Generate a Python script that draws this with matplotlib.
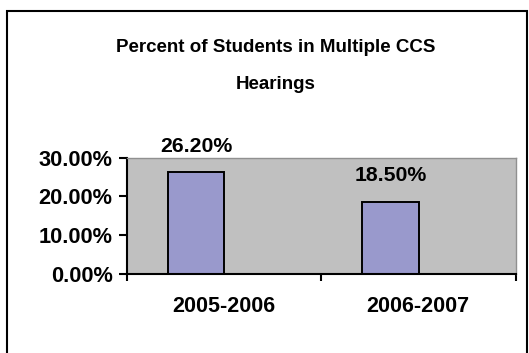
import numpy as np
import matplotlib.pyplot as plt
from matplotlib.patches import Rectangle

# data
categories = ['2005-2006', '2006-2007']
values = [26.2, 18.5]
value_labels = ['26.20%', '18.50%']
ytick_values = [0, 10, 20, 30]
ytick_labels = ['0.00%', '10.00%', '20.00%', '30.00%']
title = 'Percent of Students in Multiple CCS\nHearings'

plt.rcParams['font.family'] = ['Liberation Sans', 'DejaVu Sans']

W, H = 529, 353
fig = plt.figure(figsize=(W / 100, H / 100), dpi=100)

# outer chart border
fig.patches.append(Rectangle((6.5 / W, -0.05), 520.5 / W, 1.05 - 11 / H,
                             transform=fig.transFigure, fill=False,
                             edgecolor='black', linewidth=1.5))

ax = fig.add_axes([126.5 / W, 1 - 274 / H, 389 / W, 116.3 / H])
ax.set_facecolor('#C0C0C0')

x = np.arange(len(categories))
bars = ax.bar(x - 0.142, values, width=0.29, color='#9999CC',
              edgecolor='black', linewidth=1.4)

for xi, v, lab in zip(x, values, value_labels):
    ax.annotate(lab, (xi - 0.142, v), xytext=(0, 19), textcoords='offset points',
                ha='center', va='center', fontsize=15.3, fontweight='bold',
                annotation_clip=False)

ax.set_xlim(-0.5, 1.5)
ax.set_ylim(0, 30)
ax.set_yticks(ytick_values)
ax.set_yticklabels(ytick_labels, fontsize=15.7, fontweight='bold')
ax.set_xticks([-0.5, 0.5, 1.5])
ax.set_xticklabels([])
ax.set_xticks(x, minor=True)
ax.set_xticklabels(categories, minor=True, fontsize=15.5, fontweight='bold')
ax.tick_params(axis='x', which='minor', length=0, pad=16)
ax.tick_params(axis='x', which='major', length=5, width=1.5, direction='out')
ax.tick_params(axis='y', length=6, width=1.5, direction='out', pad=4)

for s in ['left', 'bottom']:
    ax.spines[s].set_linewidth(1.5)
for s in ['top', 'right']:
    ax.spines[s].set_color('#909090')
    ax.spines[s].set_linewidth(1)

fig.text(276 / W, 1 - 66 / H, title, ha='center', va='center',
         fontsize=13.5, fontweight='bold', linespacing=2.5)

fig.savefig('out.png', dpi=100)
